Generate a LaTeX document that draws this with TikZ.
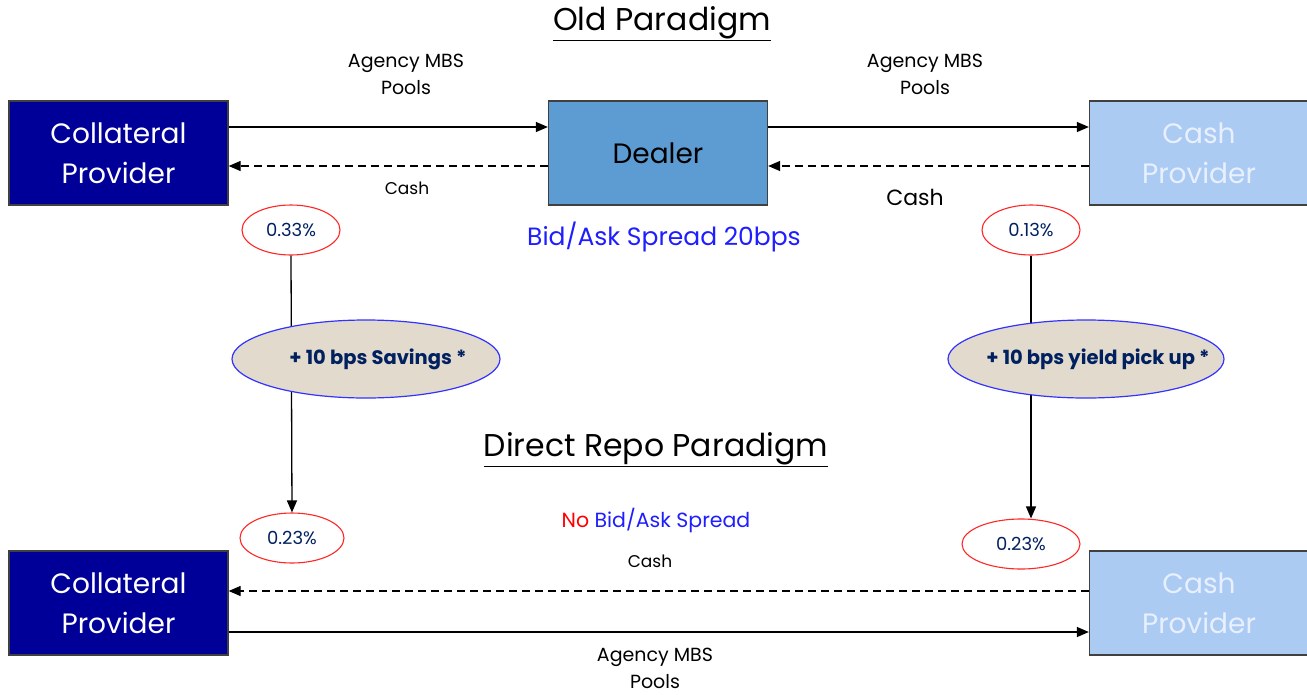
\documentclass[tikz,border=0pt]{standalone}
\usepackage{fontspec}
\setmainfont{Poppins}
\usetikzlibrary{arrows.meta, shapes.geometric, positioning}

\definecolor{collbox}{RGB}{0,0,153}
\definecolor{dealbox}{RGB}{93,155,211}
\definecolor{cashbox}{RGB}{172,203,243}
\definecolor{cashtxt}{RGB}{232,240,255}
\definecolor{ratetxt}{RGB}{0,32,96}
\definecolor{gaintan}{RGB}{226,218,205}
\definecolor{spreadblue}{RGB}{30,30,255}

\tikzset{
  party/.style={draw=black!75, line width=1.3pt, minimum width=219pt, minimum height=104pt,
    align=center, font=\fontsize{28}{40}\selectfont, inner sep=0pt},
  rate/.style={ellipse, draw=red!85, line width=1.1pt, text=ratetxt, minimum height=50pt,
    inner sep=0pt, font=\fontsize{18}{20}\selectfont},
  gain/.style={ellipse, draw=blue!80, line width=1.2pt, fill=gaintan, text=ratetxt,
    minimum height=78pt, inner ysep=0pt, inner xsep=-50pt,
    font=\bfseries\fontsize{19.5}{22}\selectfont},
  lbl/.style={align=center, font=\fontsize{17}{27}\selectfont, inner sep=0pt},
  heading/.style={font=\fontsize{31.5}{34}\selectfont, inner sep=0pt},
  flow/.style={->, line width=1.3pt},
  back/.style={->, line width=1.3pt, dash pattern=on 8pt off 5pt},
}

\begin{document}
\begin{tikzpicture}[x=1pt, y=-1pt, >={Triangle[length=12pt,width=10pt]}]
  \useasboundingbox (0,0) rectangle (1307,694);
  % old paradigm
  \node[heading] (oldtitle) at (662,24) {\underline{Old Paradigm}};
  \node[party, fill=collbox, text=white] (collold) at (118.5,153) {Collateral\\Provider};
  \node[party, fill=dealbox, text=black] (dealer) at (658,153) {Dealer};
  \node[party, fill=cashbox, text=cashtxt] (cashold) at (1199,153) {Cash\\Provider};
  \draw[flow] ([yshift=26pt]collold.east) -- ([yshift=26pt]dealer.west);
  \draw[back] ([yshift=-13pt]dealer.west) -- ([yshift=-13pt]collold.east);
  \draw[flow] ([yshift=26pt]dealer.east) -- ([yshift=26pt]cashold.west);
  \draw[back] ([yshift=-13pt]cashold.west) -- ([yshift=-13pt]dealer.east);
  \node[lbl, font=\fontsize{19}{27}\selectfont] (mbsleft) at (406,74) {Agency MBS\\Pools};
  \node[lbl, font=\fontsize{19}{27}\selectfont] (mbsright) at (925,74) {Agency MBS\\Pools};
  \node[lbl] (cashleft) at (407,188) {Cash};
  \node[lbl, font=\fontsize{22}{24}\selectfont] (cashright) at (915,197) {Cash};
  \node[lbl, text=spreadblue, font=\fontsize{25}{28}\selectfont] (spread) at (664,237) {Bid/Ask Spread 20bps};
  % rates
  \node[rate, minimum width=98pt] (rcollold) at (291,230) {0.33\%};
  \node[rate, minimum width=98pt] (rcashold) at (1031,230) {0.13\%};
  \node[rate, minimum width=104pt] (rcollnew) at (292,538) {0.23\%};
  \node[rate, minimum width=118pt] (rcashnew) at (1021,544) {0.23\%};
  \draw[flow] (rcollold.south) -- (rcollnew.north);
  \draw[flow] (rcashold.south) -- (rcashold.south |- rcashnew.north);
  \node[gain, minimum width=268pt] (savings) at (366,359) {\hspace*{24pt}+ 10 bps Savings *};
  \node[gain, minimum width=276pt] (pickup) at (1086,359) {\hspace*{24pt}+ 10 bps yield pick up *};
  % direct repo
  \node[heading] (newtitle) at (656,450) {\underline{Direct Repo Paradigm}};
  \node[lbl, font=\fontsize{20.5}{24}\selectfont] (nospread) at (656,521) {\textcolor{red}{No} \textcolor{spreadblue}{Bid/Ask Spread}};
  \node[lbl] (cashmid) at (650,561) {Cash};
  \node[party, fill=collbox, text=white] (collnew) at (118.5,603) {Collateral\\Provider};
  \node[party, fill=cashbox, text=cashtxt] (cashnew) at (1199,603) {Cash\\Provider};
  \draw[back] ([yshift=12pt]cashnew.west) -- ([yshift=12pt]collnew.east);
  \draw[flow] ([yshift=-29pt]collnew.east) -- ([yshift=-29pt]cashnew.west);
  \node[lbl, font=\fontsize{19}{27}\selectfont] (mbsmid) at (655,668) {Agency MBS\\Pools};
\end{tikzpicture}
\end{document}
